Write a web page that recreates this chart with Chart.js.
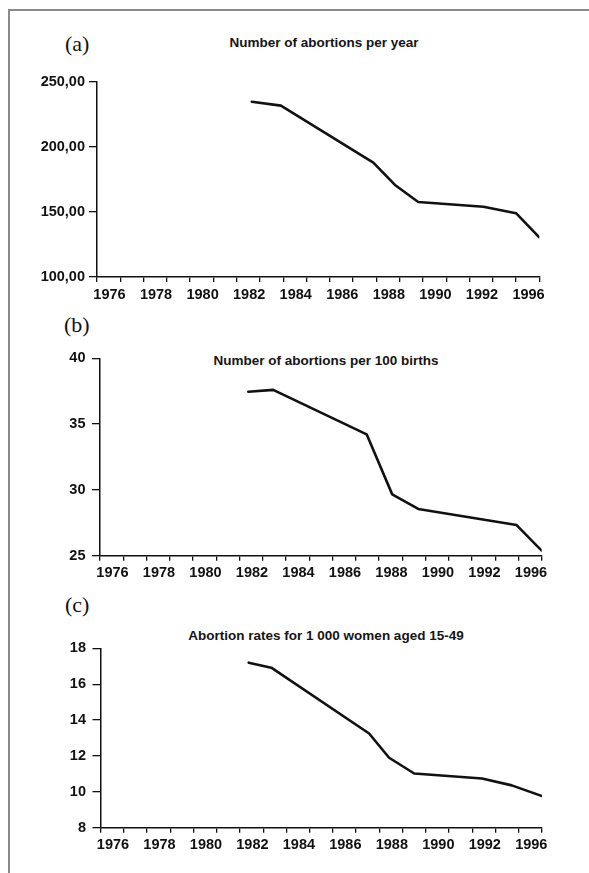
<!DOCTYPE html>
<html>
<head>
<meta charset="utf-8">
<script src="https://cdn.jsdelivr.net/npm/chart.js@4.4.1/dist/chart.umd.min.js"></script>
<style>
    body {
        margin: 0;
        width: 589px;
        height: 873px;
        background: #fff;
        position: relative;
        overflow: hidden;
        font-family: "Liberation Sans", Arial, sans-serif;
    }
    .frame-top { position: absolute; left: 9px; top: 9px; width: 580px; height: 0; border-top: 2px solid #8a8a8a; }
    .frame-left { position: absolute; left: 8px; top: 9px; width: 0; height: 864px; border-left: 2px solid #8a8a8a; }
    canvas { position: absolute; left: 0; }
    .tag {
        position: absolute;
        font-family: "Liberation Serif", "Times New Roman", serif;
        font-size: 22px;
        color: #111;
        line-height: 1;
        transform: translateY(-50%);
    }
    .title {
        position: absolute;
        font-size: 13.5px;
        font-weight: bold;
        color: #151515;
        white-space: nowrap;
        line-height: 1;
        transform: translate(-50%, -50%);
    }
</style>
</head>
<body>
<div class="frame-top"></div>
<div class="frame-left"></div>

<div class="tag" style="left:65px; top:44px;">(a)</div>
<div class="title" style="left:324px; top:43px;">Number of abortions per year</div>
<canvas id="chartA" width="589" height="240" style="top:60px;"></canvas>

<div class="tag" style="left:64px; top:325px;">(b)</div>
<div class="title" style="left:326px; top:361px;">Number of abortions per 100 births</div>
<canvas id="chartB" width="589" height="290" style="top:300px;"></canvas>

<div class="tag" style="left:65px; top:605px;">(c)</div>
<div class="title" style="left:326px; top:636px;">Abortion rates for 1 000 women aged 15-49</div>
<canvas id="chartC" width="589" height="283" style="top:590px;"></canvas>

<script>
// ====================================
// DATA
// ====================================

// x axis: one tick per year, a label every other year
const xLabelYears = [1976, 1978, 1980, 1982, 1984, 1986, 1988, 1990, 1992, 1994];
const xLabels = ['1976', '1978', '1980', '1982', '1984', '1986', '1988', '1990', '1992', '1996'];

// (a) Number of abortions per year
const yearsA = [1982.65, 1983.9, 1987.87, 1988.8, 1989.8, 1992.6, 1994.0, 1995.0];
const abortionsA = [234.6, 231.6, 187.8, 170.7, 157.6, 154.0, 149.0, 130.5];
const ticksA = [100, 150, 200, 250];

// (b) Number of abortions per 100 births
const yearsB = [1982.38, 1983.45, 1987.47, 1988.57, 1989.69, 1993.92, 1995.0];
const per100B = [37.46, 37.6, 34.22, 29.66, 28.55, 27.33, 25.38];
const ticksB = [25, 30, 35, 40];

// (c) Abortion rates for 1 000 women aged 15-49
const yearsC = [1982.38, 1983.35, 1987.56, 1988.42, 1989.5, 1992.42, 1993.7, 1995.0];
const ratesC = [17.2, 16.92, 13.25, 11.9, 11.02, 10.74, 10.36, 9.76];
const ticksC = [8, 10, 12, 14, 16, 18];

// ====================================
// CHART BUILDING
// ====================================

const INK = '#111';
const tickFont = { family: '"Liberation Sans", Arial, sans-serif', size: 14.5, weight: 'bold', lineHeight: 1 };

function pairUp(xs, ys) {
    return xs.map((x, i) => ({ x: x, y: ys[i] }));
}

// box = where the plot area must sit inside the canvas
function makeChart(id, xs, ys, yTicks, yFormat, box) {
    const canvas = document.getElementById(id);

    return new Chart(canvas, {
        type: 'line',
        data: {
            datasets: [{
                data: pairUp(xs, ys),
                borderColor: INK,
                borderWidth: 2.6,
                borderJoinStyle: 'round',
                borderCapStyle: 'round',
                pointRadius: 0,
                tension: 0,
                fill: false
            }]
        },
        options: {
            responsive: false,
            animation: false,
            events: [],
            layout: {
                padding: { left: 0, top: box.top, right: canvas.width - box.right, bottom: 0 }
            },
            plugins: {
                legend: { display: false },
                tooltip: { enabled: false }
            },
            scales: {
                x: {
                    type: 'linear',
                    min: 1976,
                    max: 1995,
                    afterFit: scale => { scale.height = canvas.height - box.bottom; },
                    afterBuildTicks: scale => {
                        const t = [];
                        for (let v = 1976; v <= 1995; v++) t.push({ value: v });
                        scale.ticks = t;
                    },
                    border: { display: true, color: INK, width: 1.5 },
                    grid: {
                        drawOnChartArea: false,
                        drawTicks: true,
                        tickLength: 5,
                        color: INK,
                        lineWidth: 1.3
                    },
                    ticks: {
                        autoSkip: false,
                        maxRotation: 0,
                        padding: box.xPad,
                        labelOffset: 12.5,
                        color: INK,
                        font: tickFont,
                        callback: value => {
                            const i = xLabelYears.indexOf(value);
                            return i >= 0 ? xLabels[i] : '';
                        }
                    }
                },
                y: {
                    min: yTicks[0],
                    max: yTicks[yTicks.length - 1],
                    afterFit: scale => { scale.width = box.left; },
                    afterBuildTicks: scale => {
                        scale.ticks = yTicks.map(v => ({ value: v }));
                    },
                    border: { display: true, color: INK, width: 1.5 },
                    grid: {
                        drawOnChartArea: false,
                        drawTicks: true,
                        tickLength: 8,
                        color: INK,
                        lineWidth: 1.3
                    },
                    ticks: {
                        padding: box.yPad,
                        color: INK,
                        font: tickFont,
                        callback: value => yFormat(value)
                    }
                }
            }
        }
    });
}

document.addEventListener('DOMContentLoaded', function() {
    makeChart('chartA', yearsA, abortionsA, ticksA,
        v => v.toFixed(2).replace('.', ','),
        { left: 97, top: 21.7, right: 539.3, bottom: 217, xPad: 5.5, yPad: 4 });

    makeChart('chartB', yearsB, per100B, ticksB,
        v => String(v),
        { left: 100, top: 58.3, right: 541.7, bottom: 255.7, xPad: 5.5, yPad: 6.5 });

    makeChart('chartC', yearsC, ratesC, ticksC,
        v => String(v),
        { left: 100.5, top: 58.3, right: 542, bottom: 237.7, xPad: 5.5, yPad: 6.5 });
});
</script>
</body>
</html>
